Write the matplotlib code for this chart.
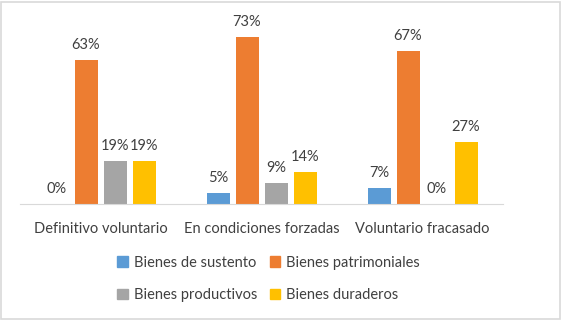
import matplotlib
matplotlib.use("Agg")
import matplotlib.pyplot as plt
import matplotlib.patches as mpatches
import numpy as np

plt.rcParams['font.family'] = ['Lato', 'DejaVu Sans']

categories = ["Definitivo voluntario", "En condiciones forzadas", "Voluntario fracasado"]
series = ["Bienes de sustento", "Bienes patrimoniales", "Bienes productivos", "Bienes duraderos"]
sustento = [0.00, 0.05, 0.07]
patrimoniales = [0.63, 0.73, 0.67]
productivos = [0.19, 0.09, 0.00]
duraderos = [0.19, 0.14, 0.27]
colors = ["#5B9BD5", "#ED7D31", "#A5A5A5", "#FFC000"]

values = [sustento, patrimoniales, productivos, duraderos]

W, H = 562, 320
fig = plt.figure(figsize=(W / 100, H / 100), dpi=100)
ax = fig.add_axes([20 / W, (H - 204) / H, (503 - 20) / W, (204 - 21) / H])

x = np.arange(len(categories))
bw = 23 / 161
step = 29 / 161
txt = "#404040"
for i, (vals, c) in enumerate(zip(values, colors)):
    pos = x + (i - 1.5) * step
    ax.bar(pos, vals, width=bw, color=c)
    for p, v in zip(pos, vals):
        ax.text(p, v + 0.035, f"{v * 100:.0f}%", ha="center", va="bottom",
                fontsize=10.5, color=txt)

ax.set_xlim(-0.5, 2.5)
ax.set_ylim(0, 0.8)
ax.set_yticks([])
ax.set_xticks(x)
ax.set_xticklabels(categories, fontsize=10.5, color=txt)
ax.tick_params(axis="x", length=0, pad=13)
for s in ["top", "right", "left"]:
    ax.spines[s].set_visible(False)
ax.spines["bottom"].set_color("#D9D9D9")

# legend is filled column-wise, so reorder to get row-wise like the original
handles = [mpatches.Patch(color=c, label=s) for c, s in zip(colors, series)]
handles = [handles[0], handles[2], handles[1], handles[3]]
leg = fig.legend(handles=handles, ncol=2, loc="center", bbox_to_anchor=(0.478, (H - 279) / H),
                 frameon=False, fontsize=10.5, handlelength=0.7, handleheight=0.7,
                 handletextpad=0.4, columnspacing=0.9, labelspacing=1.3)
for t in leg.get_texts():
    t.set_color(txt)

fig.patches.append(mpatches.Rectangle((1 / W, 1 / H), 1 - 3 / W, 1 - 3 / H,
                                      transform=fig.transFigure, fill=False,
                                      edgecolor="#D9D9D9", lw=1.2))

fig.savefig("out.png", dpi=100)
